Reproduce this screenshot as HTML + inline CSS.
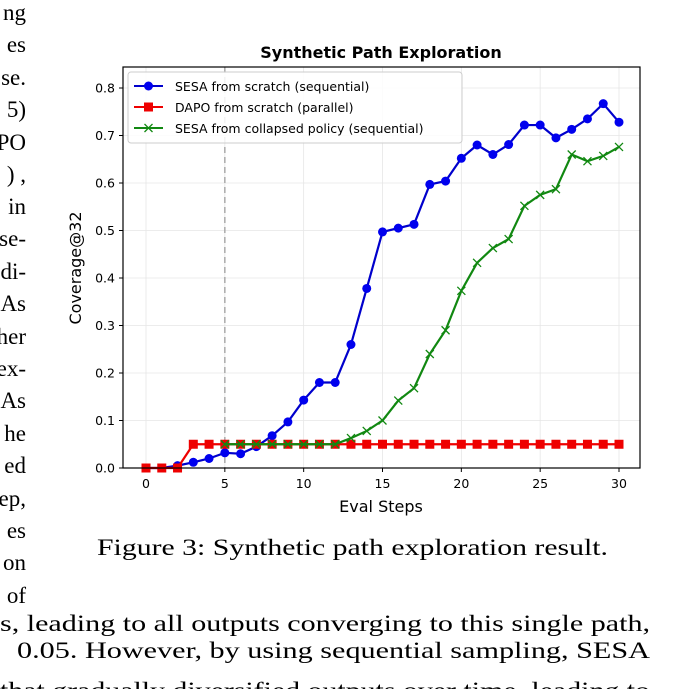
<!DOCTYPE html>
<html><head><meta charset="utf-8"><style>
html,body{margin:0;padding:0;background:#fff;width:696px;height:689px;overflow:hidden}
svg{display:block}
.p{font-family:"Liberation Serif",serif;font-size:23px;fill:#000}
.t{font-family:"DejaVu Sans",sans-serif;font-size:12.5px;fill:#000}
</style></head><body>
<svg id="fig" width="696" height="689">
<g text-anchor="end">
<text class="p" x="26" y="20">ng</text><text class="p" x="26" y="52">es</text>
<text class="p" x="26" y="85">se.</text><text class="p" x="26" y="117">5)</text>
<text class="p" x="26" y="150">PO</text><text class="p" x="26" y="182">) ,</text>
<text class="p" x="26" y="214">in</text><text class="p" x="26" y="246">se-</text>
<text class="p" x="26" y="279">di-</text><text class="p" x="26" y="311">As</text>
<text class="p" x="26" y="344">her</text><text class="p" x="26" y="376">ex-</text>
<text class="p" x="26" y="408">As</text><text class="p" x="26" y="441">he</text>
<text class="p" x="26" y="473">ed</text><text class="p" x="26" y="506">ep,</text>
<text class="p" x="26" y="538">es</text><text class="p" x="26" y="570">on</text>
<text class="p" x="26" y="603">of</text>
</g>
<text class="p" x="0" y="631" textLength="650" lengthAdjust="spacingAndGlyphs">s, leading to all outputs converging to this single path,</text>
<text class="p" x="17" y="658" textLength="633" lengthAdjust="spacingAndGlyphs">0.05.  However, by using sequential sampling, SESA</text>
<text class="p" x="0" y="698" textLength="650" lengthAdjust="spacingAndGlyphs">that gradually diversified outputs over time, leading to</text>
<text class="p" x="97" y="555" textLength="511" lengthAdjust="spacingAndGlyphs">Figure 3: Synthetic path exploration result.</text>
<text x="381" y="58" text-anchor="middle" style="font-family:'DejaVu Sans',sans-serif;font-weight:bold;font-size:16px">Synthetic Path Exploration</text>
<text x="381" y="512" text-anchor="middle" style="font-family:'DejaVu Sans',sans-serif;font-size:16px">Eval Steps</text>
<text transform="translate(81,268) rotate(-90)" text-anchor="middle" style="font-family:'DejaVu Sans',sans-serif;font-size:16px">Coverage@32</text>
<g id="grid"></g><g id="ticks"></g><g id="series"></g>
<rect x="123" y="67" width="517" height="401" fill="none" stroke="#000" stroke-width="1.2"/>
<g>
<rect x="128" y="72" width="334" height="71" rx="3" fill="#fff" fill-opacity="0.85" stroke="#ccc"/>
<line x1="134" y1="86" x2="163" y2="86" stroke="#0000cc" stroke-width="2"/><circle cx="148.5" cy="86" r="4.5" fill="#0000ee"/>
<text class="t" x="175" y="91">SESA from scratch (sequential)</text>
<line x1="134" y1="107" x2="163" y2="107" stroke="#ee0000" stroke-width="2"/><rect x="144" y="102.5" width="9" height="9" fill="#ee0000"/>
<text class="t" x="175" y="112">DAPO from scratch (parallel)</text>
<line x1="134" y1="128" x2="163" y2="128" stroke="#118811" stroke-width="2"/><path d="M144.5 124l8 8M152.5 124l-8 8" stroke="#118811" stroke-width="1.3"/>
<text class="t" x="175" y="133">SESA from collapsed policy (sequential)</text>
</g>
</svg>
<script>
const steps=[0,1,2,3,4,5,6,7,8,9,10,11,12,13,14,15,16,17,18,19,20,21,22,23,24,25,26,27,28,29,30];
const sesaScratch=[0,0,0.005,0.012,0.02,0.032,0.03,0.045,0.068,0.097,0.143,0.18,0.18,0.26,0.378,0.497,0.505,0.513,0.597,0.604,0.652,0.68,0.66,0.681,0.722,0.722,0.695,0.713,0.735,0.767,0.728];
const dapo=[0,0,0,0.05,0.05,0.05,0.05,0.05,0.05,0.05,0.05,0.05,0.05,0.05,0.05,0.05,0.05,0.05,0.05,0.05,0.05,0.05,0.05,0.05,0.05,0.05,0.05,0.05,0.05,0.05,0.05];
const collapsedSteps=[5,6,7,8,9,10,11,12,13,14,15,16,17,18,19,20,21,22,23,24,25,26,27,28,29,30];
const sesaCollapsed=[0.05,0.05,0.05,0.05,0.05,0.05,0.05,0.05,0.063,0.078,0.1,0.142,0.168,0.24,0.29,0.373,0.432,0.463,0.482,0.552,0.575,0.587,0.66,0.646,0.657,0.676];
const xTicks=[0,5,10,15,20,25,30];
const yTicks=[0,0.1,0.2,0.3,0.4,0.5,0.6,0.7,0.8];
const yTickLabels=["0.0","0.1","0.2","0.3","0.4","0.5","0.6","0.7","0.8"];
const vline=5;
const NS='http://www.w3.org/2000/svg';
const X=v=>146+v*(619-146)/30, Y=v=>468-v*(380/0.8);
function mk(t,a,p){const e=document.createElementNS(NS,t);for(const k in a)e.setAttribute(k,a[k]);p.appendChild(e);return e;}
const grid=document.getElementById('grid'),ticks=document.getElementById('ticks'),ser=document.getElementById('series');
xTicks.forEach(v=>{
 const g=mk('line',{x1:X(v),x2:X(v),y1:67,y2:468,stroke:'#e6e6e6','stroke-width':0.8},grid);
 
 
 mk('line',{x1:X(v),x2:X(v),y1:468,y2:472,stroke:'#000'},ticks);
 const t=mk('text',{x:X(v),y:488,'text-anchor':'middle',class:'t'},ticks);t.textContent=v;
 
 
});
yTicks.forEach((v,i)=>{
 const g=mk('line',{x1:123,x2:640,y1:Y(v),y2:Y(v),stroke:'#e6e6e6','stroke-width':0.8},grid);
 
 
 mk('line',{x1:119,x2:123,y1:Y(v),y2:Y(v),stroke:'#000'},ticks);
 const t=mk('text',{x:115,y:Y(v)+4.5,'text-anchor':'end',class:'t'},ticks);t.textContent=yTickLabels[i];
 
 
});
const vl=mk('line',{x1:X(vline),x2:X(vline),y1:67,y2:468,stroke:'#aaa','stroke-width':1.5,'stroke-dasharray':'6,4'},ser);


function line(xs,ys,c,name){const p=mk('polyline',{points:xs.map((x,i)=>X(x)+','+Y(ys[i])).join(' '),fill:'none',stroke:c,'stroke-width':2.2},ser);
 
 }
line(steps,sesaScratch,'#0000cc','sesa-scratch-line');
steps.forEach((s,i)=>{const c=mk('circle',{cx:X(s),cy:Y(sesaScratch[i]),r:4.5,fill:'#0000ee'},ser);
 
 });
line(steps,dapo,'#ee0000','dapo-line');
steps.forEach((s,i)=>{const r=mk('rect',{x:X(s)-4.5,y:Y(dapo[i])-4.5,width:9,height:9,fill:'#ee0000'},ser);
 
 });
line(collapsedSteps,sesaCollapsed,'#118811','sesa-collapsed-line');
collapsedSteps.forEach((s,i)=>{const x=X(s),y=Y(sesaCollapsed[i]);const m=mk('path',{d:`M${x-4} ${y-4}l8 8M${x+4} ${y-4}l-8 8`,stroke:'#118811','stroke-width':1.3},ser);
 
 });
</script>
</body></html>
